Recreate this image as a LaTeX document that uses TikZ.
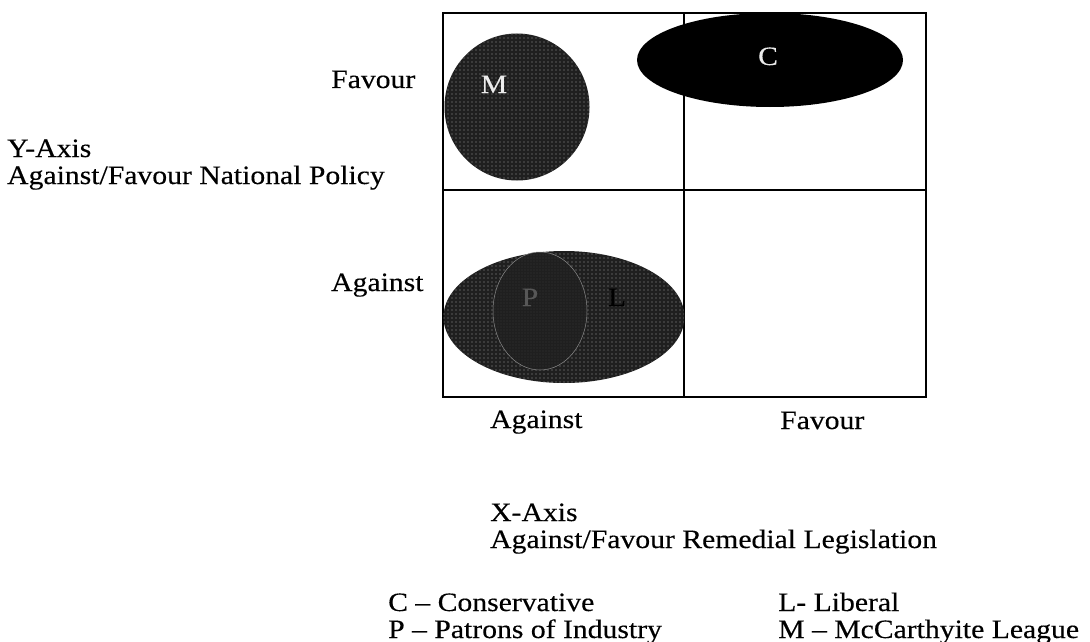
\documentclass[tikz,border=0pt]{standalone}
\usepackage{fontspec}
\setmainfont{Liberation Serif}[FakeStretch=1.12,FakeBold=0.3]
\usetikzlibrary{shapes.geometric,patterns.meta}
\tikzdeclarepattern{name=wdots, type=uncolored,
  bounding box={(-1pt,-1pt) and (1pt,1pt)}, tile size={(4pt,4pt)},
  code={\fill (0,0) circle (0.7pt);}}
\tikzdeclarepattern{name=fdots, type=uncolored,
  bounding box={(-1pt,-1pt) and (1pt,1pt)}, tile size={(3pt,3pt)},
  code={\fill (0,0) circle (0.45pt);}}
\newcommand\txtfont{\fontsize{26.5}{30}\selectfont}
\begin{document}
\begin{tikzpicture}[x=1pt,y=-1pt,
  lbl/.style={anchor=base west, inner sep=0pt, font=\txtfont},
  inlbl/.style={anchor=base, inner sep=0pt, font=\txtfont},
  blob/.style={ellipse, inner sep=0pt, outer sep=0pt},
  dotted blob/.style={blob, fill=black!88, postaction={pattern={wdots}, pattern color=black!40}},
  gridline/.style={line width=2pt}]
\fill[white] (0,0) rectangle (1090,642);
\useasboundingbox (0,0) rectangle (1090,642);
% quadrant box
\coordinate (tl) at (443,13);
\coordinate (br) at (926,397);
\coordinate (tm) at (684,13);
\coordinate (bm) at (684,397);
\coordinate (ml) at (443,190);
\coordinate (mr) at (926,190);
\draw[gridline] (tl) rectangle (br);
\draw[gridline] (tm) -- (bm);
\draw[gridline] (ml) -- (mr);
% blobs
\node[dotted blob, minimum width=145pt, minimum height=147pt] (Mblob) at (517,107) {};
\node[blob, fill=black, minimum width=266pt, minimum height=94pt] (Cblob) at (770,60) {};
\node[dotted blob, minimum width=241pt, minimum height=132pt] (Lblob) at (564,317) {};
\node[blob, fill=black!88, draw=black!45, line width=0.5pt, minimum width=94pt, minimum height=118pt,
      postaction={pattern={fdots}, pattern color=black!60}] (Pblob) at (540,311) {};
% labels inside blobs
\node[inlbl, text=white!92!black] (Mtxt) at (494,93) {M};
\node[inlbl, text=white!92!black] (Ctxt) at (768,65) {C};
\node[inlbl, text=black!66] (Ptxt) at (530,306) {P};
\node[inlbl, text=black] (Ltxt) at (617,306) {L};
% axis labels
\node[lbl] (yfav) at (331,88) {Favour};
\node[lbl] (yag) at (331,291) {Against};
\node[lbl] (ytitle) at (7,157) {Y-Axis};
\node[lbl] (ydesc) at (7,184) {Against/Favour National Policy};
\node[lbl] (xag) at (490,428) {Against};
\node[lbl] (xfav) at (780,429) {Favour};
\node[lbl] (xtitle) at (490,521) {X-Axis};
\node[lbl] (xdesc) at (490,548) {Against/Favour Remedial Legislation};
% legend
\node[lbl] (legC) at (388,611) {C – Conservative};
\node[lbl] (legP) at (388,638) {P – Patrons of Industry};
\node[lbl] (legL) at (778,611) {L- Liberal};
\node[lbl] (legM) at (778,638) {M – McCarthyite League};
\end{tikzpicture}
\end{document}
